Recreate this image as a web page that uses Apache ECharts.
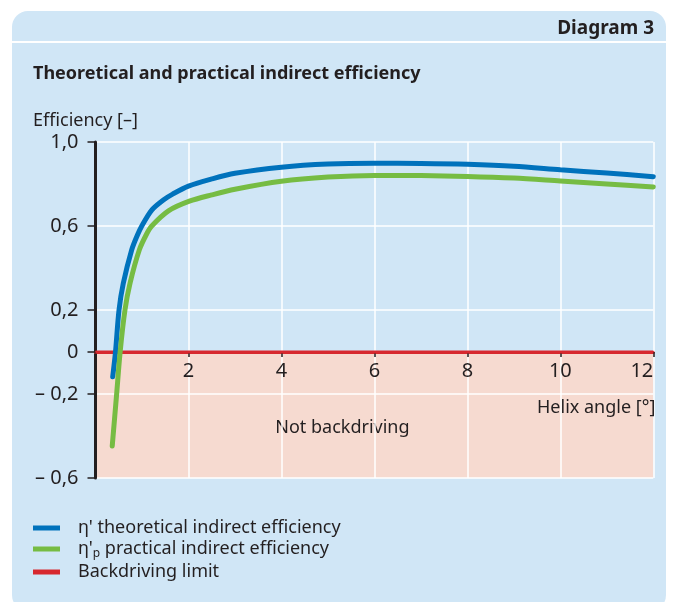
<!DOCTYPE html>
<html>
<head>
<meta charset="utf-8">
<script src="https://cdn.jsdelivr.net/npm/echarts@6/dist/echarts.min.js"></script>
<style>
  html, body { margin: 0; padding: 0; background: #fff; }
  #box { width: 677px; height: 602px; }
</style>
</head>
<body>
<div id="box"></div>
<script>
// helix angle [°] and efficiency
const blueAngle = [0.37, 0.43, 0.506, 0.598, 0.778, 0.9, 0.99, 1.21, 1.46, 1.66, 2.0, 2.5, 3.0, 4.0, 5.0, 6.0, 7.0, 8.0, 9.0, 10.0, 11.0, 12.0];
const blueEff = [-0.118, 0, 0.2, 0.327, 0.486, 0.556, 0.598, 0.676, 0.724, 0.752, 0.79, 0.824, 0.851, 0.88, 0.895, 0.899, 0.898, 0.894, 0.885, 0.868, 0.852, 0.835];

const greenAngle = [0.36, 0.455, 0.53, 0.634, 0.742, 0.942, 1.1, 1.21, 1.57, 2.02, 2.5, 3.0, 4.0, 5.0, 6.0, 7.0, 8.0, 9.0, 10.0, 11.0, 12.0];
const greenEff = [-0.448, -0.2, 0, 0.2, 0.327, 0.486, 0.562, 0.6, 0.672, 0.718, 0.748, 0.775, 0.813, 0.833, 0.841, 0.84, 0.836, 0.828, 0.814, 0.8, 0.786];

const limitAngle = [0, 12];
const limitEff = [0, 0];

const effLabels = [-0.6, -0.2, 0, 0.2, 0.6, 1.0];
const seriesNames = ["η' theoretical indirect efficiency", "η'p practical indirect efficiency", "Backdriving limit"];

const font = "Noto Sans";
const textColor = "#231f20";

function pairs(xs, ys) {
  return xs.map((x, i) => [x, ys[i]]);
}

let myCharts = echarts.init(document.getElementById("box"));

let option = {
  animation: false,
  backgroundColor: "#fff",
  textStyle: { fontFamily: font },
  graphic: [
    {
      type: "rect",
      z: -10,
      shape: { x: 12, y: 11, width: 654, height: 600, r: 16 },
      style: { fill: "#d0e6f6" }
    },
    {
      type: "line",
      z: -9,
      shape: { x1: 12, y1: 42, x2: 666, y2: 42 },
      style: { stroke: "#fff", lineWidth: 2 }
    }
  ],
  title: [
    {
      text: "Diagram 3",
      right: 18,
      top: 14,
      textStyle: { fontFamily: font, fontSize: 19, fontWeight: "bold", color: textColor }
    },
    {
      text: "Theoretical and practical indirect efficiency",
      left: 28,
      top: 60,
      textStyle: { fontFamily: font, fontSize: 18, fontWeight: "bold", color: textColor }
    },
    {
      text: "Efficiency [–]",
      left: 28,
      top: 107,
      textStyle: { fontFamily: font, fontSize: 18, fontWeight: "normal", color: textColor }
    }
  ],
  legend: {
    orient: "vertical",
    left: 33,
    top: 519,
    padding: 0,
    icon: "rect",
    itemWidth: 27,
    itemHeight: 5,
    itemGap: 3,
    data: seriesNames,
    formatter: function (name) {
      if (name === seriesNames[1]) {
        return "{g|}{a|η'}{s|p}{a| practical indirect efficiency}";
      }
      return "{g|}{a|" + name + "}";
    },
    textStyle: {
      rich: {
        g: { width: 13, lineHeight: 22 },
        a: { fontFamily: font, fontSize: 18, color: textColor, lineHeight: 22 },
        s: { fontFamily: font, fontSize: 12, color: textColor, lineHeight: 22, verticalAlign: "bottom", padding: [7, 0, 0, 0] }
      }
    }
  },
  grid: {
    left: 95.5,
    right: 23.7,
    top: 142,
    bottom: 124,
    containLabel: false
  },
  xAxis: {
    type: "value",
    min: 0,
    max: 12,
    interval: 2,
    z: 1.5,
    position: "bottom",
    offset: -126,
    name: "Helix angle [°]",
    nameLocation: "end",
    nameGap: 2,
    nameTextStyle: {
      fontFamily: font,
      fontSize: 18,
      color: textColor,
      align: "right",
      verticalAlign: "top",
      padding: [47, 0, 0, 0]
    },
    axisLine: { show: true, onZero: false, lineStyle: { color: "#d7282f", width: 3 } },
    axisTick: { show: true, length: 5, lineStyle: { color: textColor, width: 1.5 } },
    axisLabel: {
      show: true,
      margin: 9,
      fontFamily: font,
      fontSize: 20,
      color: textColor,
      alignMaxLabel: "right",
      formatter: function (v) { return v === 0 ? "" : String(v); }
    },
    splitLine: { show: true, lineStyle: { color: "#fff", width: 1.5 } }
  },
  yAxis: {
    type: "value",
    min: -0.6,
    max: 1.0,
    interval: 0.4,
    z: 1.5,
    axisLine: { show: true, onZero: false, lineStyle: { color: textColor, width: 3 } },
    axisTick: {
      show: true,
      length: 8,
      customValues: effLabels,
      lineStyle: { color: textColor, width: 1.5 }
    },
    axisLabel: {
      margin: 17,
      fontFamily: font,
      fontSize: 20,
      color: textColor,
      customValues: effLabels,
      formatter: function (v) {
        if (Math.abs(v) < 1e-9) return "0";
        let s = Math.abs(v).toFixed(1).replace(".", ",");
        return v < 0 ? "– " + s : s;
      }
    },
    splitLine: { show: true, lineStyle: { color: "#fff", width: 1.5 } }
  },
  series: [
    {
      name: "zone",
      type: "line",
      z: 1,
      data: [],
      silent: true,
      markArea: {
        silent: true,
        itemStyle: { color: "#f6dad0" },
        label: {
          show: true,
          position: "inside",
          offset: [-32, 13],
          fontFamily: font,
          fontSize: 18,
          color: textColor
        },
        data: [[{ name: "Not backdriving", xAxis: 0, yAxis: -0.6 }, { xAxis: 12, yAxis: 0 }]]
      }
    },
    {
      name: seriesNames[2],
      type: "line",
      z: 2,
      symbol: "none",
      color: "#d7282f",
      lineStyle: { width: 3, color: "#d7282f" },
      data: pairs(limitAngle, limitEff)
    },
    {
      name: seriesNames[0],
      type: "line",
      z: 3,
      symbol: "none",
      smooth: 0.3,
      color: "#0072bc",
      lineStyle: { width: 5, color: "#0072bc", cap: "round" },
      data: pairs(blueAngle, blueEff)
    },
    {
      name: seriesNames[1],
      type: "line",
      z: 3,
      symbol: "none",
      smooth: 0.3,
      color: "#76bc43",
      lineStyle: { width: 5, color: "#76bc43", cap: "round" },
      data: pairs(greenAngle, greenEff)
    }
  ]
};

myCharts.setOption(option);
</script>
</body>
</html>
